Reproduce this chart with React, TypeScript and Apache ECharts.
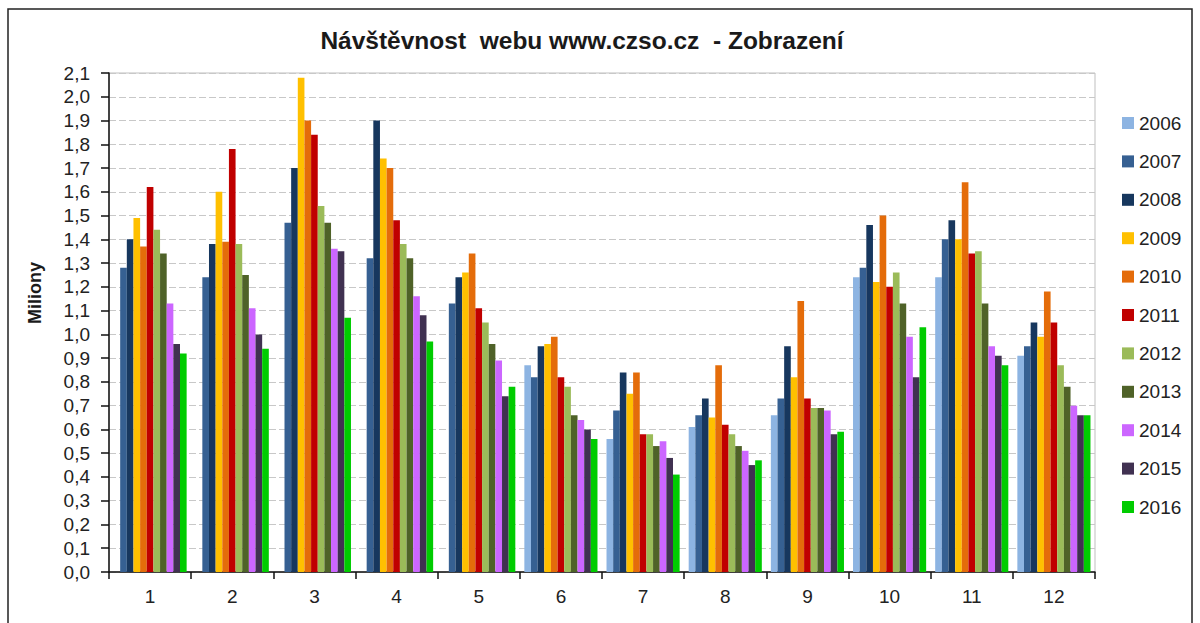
import React, { useEffect, useRef } from "react";
import * as echarts from "echarts";

const months = ["1", "2", "3", "4", "5", "6", "7", "8", "9", "10", "11", "12"];
const years = ["2006", "2007", "2008", "2009", "2010", "2011", "2012", "2013", "2014", "2015", "2016"];
const colors = ["#8DB4E2", "#366092", "#17375E", "#FFC000", "#E46C0A", "#C00000", "#9BBB59", "#4F6228", "#CC66FF", "#403151", "#00CC00"];

const v2006 = [null, null, null, null, null, 0.87, 0.56, 0.61, 0.66, 1.24, 1.24, 0.91];
const v2007 = [1.28, 1.24, 1.47, 1.32, 1.13, 0.82, 0.68, 0.66, 0.73, 1.28, 1.40, 0.95];
const v2008 = [1.40, 1.38, 1.70, 1.90, 1.24, 0.95, 0.84, 0.73, 0.95, 1.46, 1.48, 1.05];
const v2009 = [1.49, 1.60, 2.08, 1.74, 1.26, 0.96, 0.75, 0.65, 0.82, 1.22, 1.40, 0.99];
const v2010 = [1.37, 1.39, 1.90, 1.70, 1.34, 0.99, 0.84, 0.87, 1.14, 1.50, 1.64, 1.18];
const v2011 = [1.62, 1.78, 1.84, 1.48, 1.11, 0.82, 0.58, 0.62, 0.73, 1.20, 1.34, 1.05];
const v2012 = [1.44, 1.38, 1.54, 1.38, 1.05, 0.78, 0.58, 0.58, 0.69, 1.26, 1.35, 0.87];
const v2013 = [1.34, 1.25, 1.47, 1.32, 0.96, 0.66, 0.53, 0.53, 0.69, 1.13, 1.13, 0.78];
const v2014 = [1.13, 1.11, 1.36, 1.16, 0.89, 0.64, 0.55, 0.51, 0.68, 0.99, 0.95, 0.70];
const v2015 = [0.96, 1.00, 1.35, 1.08, 0.74, 0.60, 0.48, 0.45, 0.58, 0.82, 0.91, 0.66];
const v2016 = [0.92, 0.94, 1.07, 0.97, 0.78, 0.56, 0.41, 0.47, 0.59, 1.03, 0.87, 0.66];

const seriesValues = [v2006, v2007, v2008, v2009, v2010, v2011, v2012, v2013, v2014, v2015, v2016];

const titleText = "Návštěvnost  webu www.czso.cz  - Zobrazení";
const yAxisName = "Miliony";

const FONT = "'Liberation Sans', Arial, sans-serif";

export default function App() {
  const ref = useRef<HTMLDivElement>(null);
  useEffect(() => {
    if (!ref.current) return;
    const chart = echarts.init(ref.current, undefined, { renderer: "svg" });
    chart.setOption({
      animation: false,
      backgroundColor: "#ffffff",
      textStyle: { fontFamily: FONT },
      graphic: [
        {
          type: "rect",
          shape: { x: 8, y: 9, width: 1184, height: 640 },
          style: { fill: "none", stroke: "#222222", lineWidth: 1.5 },
          silent: true,
          z: 100,
        },
        {
          type: "text",
          x: 582,
          y: 40,
          style: {
            text: titleText,
            font: `bold 24.5px ${FONT}`,
            fill: "#1a1a1a",
            textAlign: "center",
            textVerticalAlign: "middle",
          },
        },
        {
          type: "text",
          x: 35,
          y: 293,
          rotation: Math.PI / 2,
          style: {
            text: yAxisName,
            font: `bold 18px ${FONT}`,
            fill: "#1a1a1a",
            textAlign: "center",
            textVerticalAlign: "middle",
          },
        },
      ],
      grid: {
        left: 109,
        right: 105,
        top: 73,
        bottom: 51,
        show: true,
        borderColor: "#bfbfbf",
        borderWidth: 1,
        containLabel: false,
      },
      legend: {
        orient: "vertical",
        left: 1117,
        top: 108,
        itemWidth: 12,
        itemHeight: 12,
        itemGap: 18.4,
        icon: "rect",
        data: years,
        textStyle: { fontFamily: FONT, fontSize: 19, color: "#222222", lineHeight: 20 },
      },
      xAxis: {
        type: "category",
        data: months,
        axisLine: { lineStyle: { color: "#111111", width: 1.5 } },
        axisTick: { show: true, length: 7, lineStyle: { color: "#111111", width: 1.5 } },
        axisLabel: { fontFamily: FONT, fontSize: 19, color: "#222222", margin: 15 },
      },
      yAxis: {
        type: "value",
        min: 0,
        max: 2.1,
        interval: 0.1,
        axisLine: { show: true, lineStyle: { color: "#111111", width: 1.5 } },
        axisTick: { show: true, length: 8, lineStyle: { color: "#111111", width: 1.5 } },
        axisLabel: {
          fontFamily: FONT,
          fontSize: 19,
          color: "#222222",
          margin: 19,
          formatter: (v: number) => v.toFixed(1).replace(".", ","),
        },
        splitLine: { show: true, lineStyle: { color: "#c8c8c8", type: [7, 3], width: 1 } },
      },
      series: years.map((y, i) => ({
        name: y,
        type: "bar",
        data: seriesValues[i],
        itemStyle: { color: colors[i] },
        barGap: "0%",
        barCategoryGap: "11%",
      })),
    });
    return () => chart.dispose();
  }, []);
  return (
    <div
      ref={ref}
      style={{ position: "absolute", left: 0, top: 0, width: 1200, height: 623 }}
    />
  );
}
